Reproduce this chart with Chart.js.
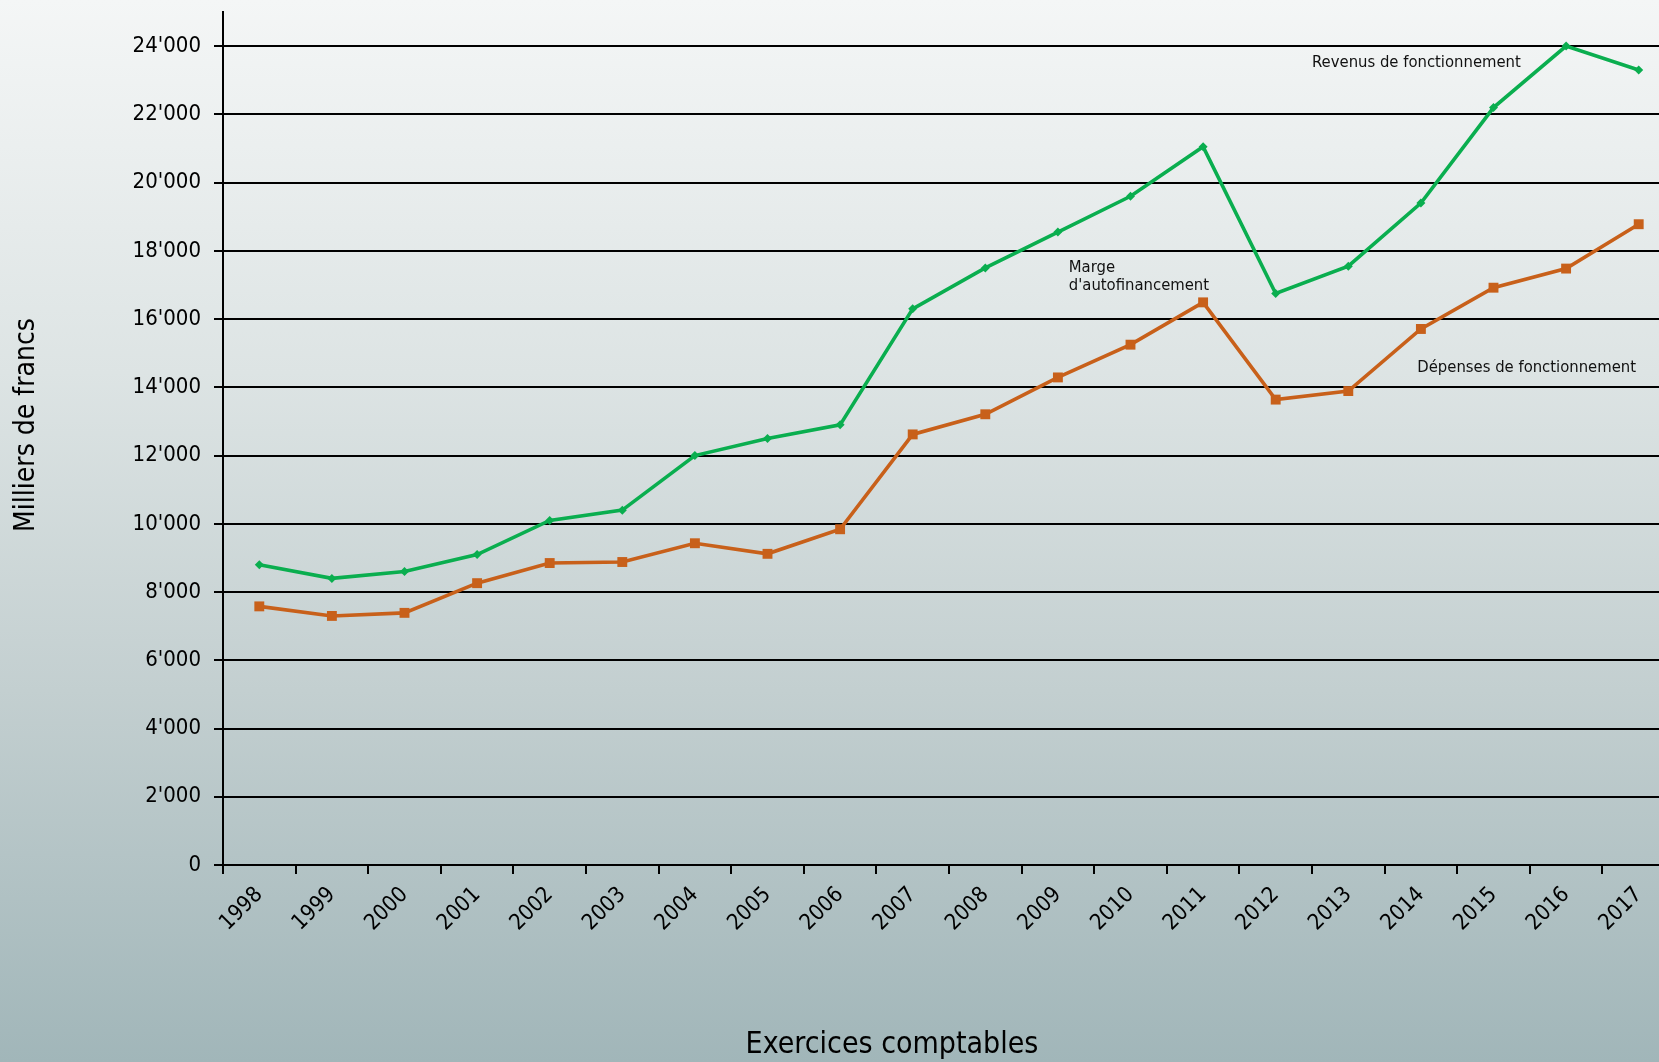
<!DOCTYPE html>
<html>
<head>
<meta charset="utf-8">
<script src="https://cdn.jsdelivr.net/npm/chart.js@4.4.1/dist/chart.umd.min.js"></script>
<style>
    html, body { margin: 0; padding: 0; overflow: hidden; }
    body {
        width: 1659px;
        height: 1062px;
        background: linear-gradient(to bottom, #f4f6f6 0%, #dde4e4 35%, #c3cfd0 65%, #a1b6b9 100%);
    }
    #wrap { position: relative; width: 1682px; height: 1062px; }
</style>
</head>
<body>
<div id="wrap"><canvas id="financeChart"></canvas></div>
<script>
// Daten (Milliers de francs)
const years = ['1998', '1999', '2000', '2001', '2002', '2003', '2004', '2005', '2006', '2007',
               '2008', '2009', '2010', '2011', '2012', '2013', '2014', '2015', '2016', '2017'];
const revenus = [8800, 8400, 8600, 9100, 10100, 10400, 12000, 12500, 12900, 16300,
                 17500, 18550, 19600, 21050, 16750, 17550, 19400, 22200, 24000, 23300];
const depenses = [7580, 7300, 7390, 8260, 8850, 8880, 9430, 9120, 9840, 12620,
                  13210, 14290, 15250, 16490, 13640, 13890, 15710, 16920, 17480, 18780];
const yTicks = [0, 2000, 4000, 6000, 8000, 10000, 12000, 14000, 16000, 18000, 20000, 22000, 24000];
const yMax = 25000;

// Beschriftungen im Diagramm (Position in Kategorie-Index / Wert)
const notes = [
    { lines: ['Revenus de fonctionnement'], at: 14.5, value: 23520 },
    { lines: ['Marge', "d'autofinancement"], at: 11.15, value: 17500 },
    { lines: ['Dépenses de fonctionnement'], at: 15.95, value: 14580 }
];

const FONT = '"DejaVu Sans Condensed", "DejaVu Sans", sans-serif';

function formatThousands(v) {
    return String(Math.round(v)).replace(/\B(?=(\d{3})+(?!\d))/g, "'");
}

// Chart.js Innenabstände der Achsen abschalten
function noPadding(s) {
    s.paddingTop = 0;
    s.paddingBottom = 0;
    s.paddingLeft = 0;
    s.paddingRight = 0;
}

// Texte + Achsentitel zeichnen
const notesPlugin = {
    id: 'notes',
    afterDraw(chart) {
        const ctx = chart.ctx;
        const xs = chart.scales.x;
        const ys = chart.scales.y;
        ctx.save();
        ctx.fillStyle = '#111';
        ctx.font = '16.5px ' + FONT;
        ctx.textAlign = 'left';
        ctx.textBaseline = 'middle';
        notes.forEach(n => {
            const px = xs.getPixelForValue(n.at);
            const py = ys.getPixelForValue(n.value);
            n.lines.forEach((line, i) => ctx.fillText(line, px, py + i * 18));
        });
        // Achsentitel unten
        ctx.fillStyle = '#000';
        ctx.font = '30px ' + FONT;
        ctx.textAlign = 'center';
        ctx.fillText('Exercices comptables', chart.chartArea.left + 669, 1045);
        // Achsentitel links (gedreht)
        ctx.font = '28px ' + FONT;
        ctx.translate(27, 425);
        ctx.rotate(-Math.PI / 2);
        ctx.fillText('Milliers de francs', 0, 0);
        ctx.restore();
    }
};

const ctx = document.getElementById('financeChart').getContext('2d');

new Chart(ctx, {
    type: 'line',
    data: {
        labels: years,
        datasets: [
            {
                label: 'Revenus de fonctionnement',
                data: revenus,
                borderColor: '#0aae4f',
                backgroundColor: '#0aae4f',
                borderWidth: 3.6,
                pointStyle: 'rectRot',
                pointRadius: 4.5,
                pointBorderWidth: 0,
                tension: 0
            },
            {
                label: 'Dépenses de fonctionnement',
                data: depenses,
                borderColor: '#c8601a',
                backgroundColor: '#c8601a',
                borderWidth: 3.6,
                pointStyle: 'rect',
                pointRadius: 7,
                pointBorderWidth: 0,
                tension: 0
            }
        ]
    },
    options: {
        responsive: true,
        maintainAspectRatio: false,
        animation: false,
        layout: { padding: { top: 12, right: 0, left: 0, bottom: 0 } },
        plugins: {
            legend: { display: false },
            tooltip: { enabled: false }
        },
        scales: {
            x: {
                type: 'category',
                offset: true,
                grid: {
                    drawOnChartArea: false,
                    drawTicks: true,
                    tickLength: 9,
                    color: '#000',
                    lineWidth: 2,
                    offset: true
                },
                border: { color: '#000', width: 2 },
                ticks: {
                    autoSkip: false,
                    minRotation: 45,
                    maxRotation: 45,
                    color: '#000',
                    padding: 8,
                    font: { family: FONT, size: 22 }
                },
                afterFit: s => { s.height = 197; noPadding(s); }
            },
            y: {
                min: 0,
                max: yMax,
                grid: {
                    color: '#000',
                    lineWidth: 2,
                    tickLength: 9,
                    drawTicks: true
                },
                border: { color: '#000', width: 2 },
                ticks: {
                    color: '#000',
                    padding: 13,
                    font: { family: FONT, size: 22 },
                    callback: v => formatThousands(v)
                },
                afterBuildTicks: s => { s.ticks = yTicks.map(v => ({ value: v })); },
                afterFit: s => { s.width = 223; noPadding(s); }
            }
        }
    },
    plugins: [notesPlugin]
});
</script>
</body>
</html>
